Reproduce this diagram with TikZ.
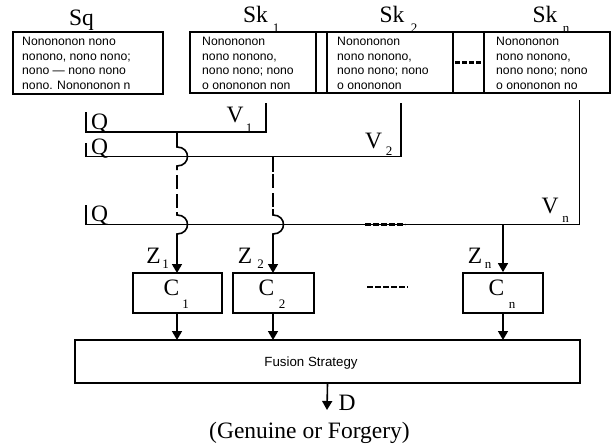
\documentclass[tikz,border=0pt]{standalone}
\usepackage{fontspec}
\setmainfont{Liberation Serif}
\newfontfamily\boxfont{Liberation Sans}
\usetikzlibrary{arrows.meta,calc}
\begin{document}
\begin{tikzpicture}[x=1pt,y=-1pt,
  lbl/.style={inner sep=0pt, anchor=base, font=\fontsize{23.5}{25}\selectfont},
  sublbl/.style={inner sep=0pt, anchor=base, font=\fontsize{13}{14}\selectfont},
  box/.style={draw, line width=1.8pt, inner sep=0pt},
  txt/.style={inner sep=0pt, anchor=north west, align=left, font=\boxfont\fontsize{12.2}{14.5}\selectfont},
  wire/.style={line width=1.6pt},
  arr/.style={wire, -{Triangle[width=10pt,length=9pt]}},
  thickdash/.style={line width=2.8pt, dash pattern=on 14pt off 5pt},
  dots/.style={line width=3pt, dash pattern=on 5pt off 2pt},
]
\useasboundingbox (0,0) rectangle (614,447);

% top boxes
\node[box, minimum width=150pt, minimum height=62pt] (sq) at (88,63) {};
\node[box, minimum width=126pt, minimum height=61pt] (sk1) at (253,62.5) {};
\node[box, minimum width=11pt, minimum height=61pt] (gap) at (321.5,62.5) {};
\node[box, minimum width=126pt, minimum height=61pt] (sk2) at (390,62.5) {};
\node[box, minimum width=31pt, minimum height=61pt] (dotbox) at (468.5,62.5) {};
\node[box, minimum width=126pt, minimum height=61pt] (skn) at (547,62.5) {};
\draw[dots] ($(dotbox.west)+(3,0)$) -- ($(dotbox.east)+(-1,0)$);

\node[txt] (sqt) at (22,37) {Nonononon nono\\nonono, nono nono;\\nono — nono nono\\nono. Nonononon n};
\node[txt] (sk1t) at (202,37) {Nonononon\\nono nonono,\\nono nono; nono\\o onononon non};
\node[txt] (sk2t) at (337,37) {Nonononon\\nono nonono,\\nono nono; nono\\o onononon};
\node[txt] (sknt) at (496,37) {Nonononon\\nono nonono,\\nono nono; nono\\o onononon no};

% titles
\node[lbl] (sql) at (81.5,26) {Sq};
\node[lbl] (sk1l) at (255.5,23) {Sk};
\node[sublbl] (sk1s) at (276,32) {1};
\node[lbl] (sk2l) at (392,23) {Sk};
\node[sublbl] (sk2s) at (414,32) {2};
\node[lbl] (sknl) at (545,23) {Sk};
\node[sublbl] (skns) at (566,32) {n};

% Q lines
\coordinate (q1a) at (86,112); \coordinate (q1b) at (86,132);
\coordinate (v1b) at (266,132); \coordinate (v1a) at (266,103);
\coordinate (q2a) at (86,143); \coordinate (q2b) at (86,156.5);
\coordinate (v2b) at (401,156.5); \coordinate (v2a) at (401,103);
\coordinate (qna) at (86,205); \coordinate (qnb) at (86,224.5);
\coordinate (vnb) at (579.5,224.5); \coordinate (vna) at (579.5,100);
\draw[wire] (q1a) -- (q1b) -- (v1b) -- (v1a);
\draw[wire] (q2a) -- (q2b) -- (v2b) -- (v2a);
\draw[wire] (qna) -- (qnb) -- (vnb) -- (vna);
\coordinate (ld1) at (365,224.5); \coordinate (ld2) at (405,224.5);
\draw[line width=2.8pt, dash pattern=on 6pt off 2pt] (ld1) -- (ld2);

\node[lbl, anchor=base west] (q1l) at (91,129) {Q};
\node[lbl, anchor=base west] (q2l) at (91,154) {Q};
\node[lbl, anchor=base west] (qnl) at (91,221) {Q};
\node[lbl] (v1l) at (235,122) {V};
\node[sublbl] (v1s) at (249,132) {1};
\node[lbl] (v2l) at (373.5,148) {V};
\node[sublbl] (v2s) at (389,155) {2};
\node[lbl] (vnl) at (550,213) {V};
\node[sublbl] (vns) at (565.5,222) {n};

% classifiers
\node[box, minimum width=89pt, minimum height=40pt] (c1) at (177.5,293) {};
\node[box, minimum width=81pt, minimum height=40pt] (c2) at (273.5,293) {};
\node[box, minimum width=80pt, minimum height=40pt] (cn) at (503,293) {};
\node[lbl] (c1l) at (171.5,295) {C};
\node[sublbl] (c1s) at (185.5,308) {1};
\node[lbl] (c2l) at (266.5,295) {C};
\node[sublbl] (c2s) at (282,308) {2};
\node[lbl] (cnl) at (496.5,295) {C};
\node[sublbl] (cns) at (512,308) {n};
\coordinate (cd1) at (367,287); \coordinate (cd2) at (408,287);
\draw[line width=2.8pt, dash pattern=on 6pt off 2pt] (cd1) -- (cd2);

% column 1
\coordinate (a1) at (177,132);
\coordinate (c1top) at (177,273); \coordinate (c1bot) at (177,313); \coordinate (f1) at (177,340);
\draw[wire] (a1) -- (177,147) .. controls (191,147) and (191,166) .. (177,166) -- (177,170);
\draw[thickdash] (177,175) -- (177,213);
\draw[wire] (177,212) -- (177,215) .. controls (191,215) and (191,234) .. (177,234) -- (177,240);
\draw[arr] (177,239) -- (c1top);
% column 2
\coordinate (a2) at (273,156.5);
\coordinate (c2top) at (273,273); \coordinate (c2bot) at (273,313); \coordinate (f2) at (273,340);
\draw[wire] (a2) -- (273,172);
\draw[thickdash] (273,174) -- (273,210);
\draw[wire] (273,209) -- (273,215) .. controls (287,215) and (287,234) .. (273,234) -- (273,240);
\draw[arr] (273,239) -- (c2top);
% column n
\coordinate (an) at (503,224.5);
\coordinate (fn) at (503,340);
\draw[arr] (an) -- (cn.north);

\node[lbl] (z1l) at (153.5,263) {Z};
\node[sublbl] (z1s) at (165.5,268) {1};
\node[lbl] (z2l) at (245,263) {Z};
\node[sublbl] (z2s) at (260.5,268) {2};
\node[lbl] (znl) at (475,263) {Z};
\node[sublbl] (zns) at (488,268) {n};

% fusion
\node[box, minimum width=505pt, minimum height=43pt] (fus) at (327.5,361.5) {};
\node[inner sep=0pt, font=\boxfont\fontsize{13.3}{15}\selectfont] (fust) at (311,363) {Fusion Strategy};
\draw[arr] (c1bot) -- (f1);
\draw[arr] (c2bot) -- (f2);
\draw[arr] (cn.south) -- (fn);
\coordinate (dend) at (327,410);
\draw[arr] (fus.south) -- (dend);
\node[lbl] (dl) at (347,410) {D};
\node[lbl] (gen) at (309.5,438) {(Genuine or Forgery)};
\end{tikzpicture}
\end{document}
